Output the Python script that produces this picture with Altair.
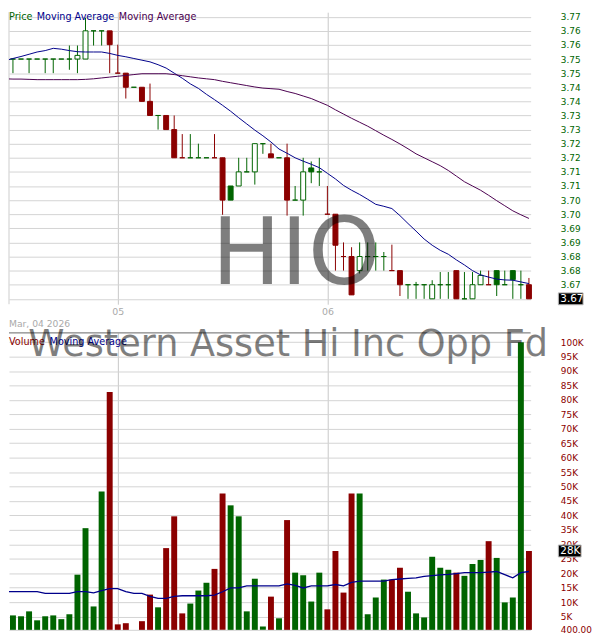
import altair as alt
import pandas as pd

GREEN = "#006400"
RED = "#8B0000"
BLUE = "#00008B"
PURPLE = "#4B0050"
GRID = "#d3d3d3"
FONT = "DejaVu Sans"

opens = [3.75,3.75,3.75,3.75,3.75,3.75,3.75,3.75,3.75,3.75,
         3.76,3.76,3.76,3.745,3.745,3.74,3.74,3.735,3.73,3.73,
         3.725,3.715,3.715,3.715,3.715,3.715,3.715,3.705,3.705,3.71,
         3.71,3.72,3.7164,3.715,3.715,3.70,3.70,3.7114,3.71,3.695,
         3.695,3.68,3.68,3.675,3.68,3.68,3.68,3.675,3.675,3.67,
         3.67,3.67,3.665,3.67,3.67,3.675,3.665,3.665,3.67,3.67,
         3.675,3.67,3.675,3.67,3.67]
highs = [3.75,3.75,3.75,3.75,3.75,3.75,3.75,3.7548,3.7548,3.7646,
         3.76,3.76,3.76,3.7551,3.745,3.74,3.74,3.7413,3.73,3.73,
         3.73,3.7234,3.7234,3.72,3.715,3.7234,3.715,3.705,3.715,3.715,
         3.72,3.72,3.72,3.715,3.72,3.705,3.715,3.7137,3.715,3.705,
         3.695,3.685,3.6833,3.685,3.685,3.685,3.6816,3.6842,3.675,3.67,
         3.671,3.67,3.6716,3.6745,3.6745,3.675,3.6745,3.6745,3.675,3.675,
         3.675,3.675,3.675,3.675,3.6724]
lows = [3.745,3.75,3.745,3.75,3.745,3.745,3.75,3.7462,3.745,3.75,
        3.7548,3.7548,3.745,3.745,3.736,3.74,3.735,3.73,3.725,3.725,
        3.715,3.715,3.715,3.715,3.715,3.715,3.6948,3.70,3.705,3.71,
        3.7055,3.7164,3.715,3.715,3.6945,3.70,3.6945,3.706,3.705,3.695,
        3.675,3.675,3.6664,3.674,3.675,3.675,3.675,3.675,3.666,3.665,
        3.665,3.665,3.665,3.665,3.665,3.665,3.665,3.665,3.67,3.67,
        3.666,3.67,3.665,3.665,3.665]
closes = [3.75,3.75,3.75,3.75,3.75,3.75,3.75,3.75,3.7513,3.76,
          3.76,3.76,3.7551,3.745,3.74,3.74,3.735,3.73,3.73,3.725,
          3.715,3.715,3.715,3.715,3.715,3.715,3.70,3.70,3.71,3.71,
          3.72,3.72,3.715,3.715,3.70,3.70,3.71,3.71,3.71,3.695,
          3.684,3.68,3.6664,3.68,3.68,3.68,3.68,3.675,3.67,3.67,
          3.67,3.67,3.67,3.67,3.67,3.665,3.665,3.67,3.6733,3.67,
          3.67,3.67,3.6718,3.67,3.665]
dirs = list("gggggggggggg" "rrrgrrgrrrggg" "rrgggggrgrgggg" "rrrrggggrrgggggg" "rgggrggggr")
volumes = [5400,5100,6800,3700,5100,5400,4100,5800,19500,35600,
           8500,48300,82700,2300,2700,400,3400,12600,8200,28700,
           39700,6100,9500,14000,16700,21500,47600,43500,39700,6800,
           18100,1600,11900,4400,38400,20200,19300,10200,20200,7500,
           27700,13300,47600,47600,5800,11600,17800,17800,21900,13600,
           6100,4700,25700,21900,21200,20200,19100,23200,24600,31100,
           25300,9900,11600,100000,27700]

ma_idx = list(range(-1, 65))
ma_short = [3.7494, 3.7502,3.7509,3.7517,3.7525,3.7530,3.7538,3.7535,3.7530,3.7526,3.7525,
            3.7525,3.7525,3.7520,3.7513,3.7508,3.7502,3.7496,3.7490,3.7480,3.7468,
            3.7450,3.7432,3.7412,3.7396,3.7375,3.7356,3.7336,3.7315,3.7292,3.7270,
            3.7248,3.7228,3.7206,3.7181,3.7166,3.7150,3.7138,3.7127,3.7115,3.7095,
            3.7075,3.7052,3.7035,3.7020,3.7003,3.6985,3.6978,3.6970,3.6945,3.6917,
            3.6890,3.6862,3.6840,3.6822,3.6808,3.6788,3.6770,3.6750,3.6735,3.6727,
            3.6720,3.6717,3.6716,3.6710,3.6704]
ma_long = [3.7430, 3.7429,3.7429,3.7428,3.7427,3.7427,3.7427,3.7427,3.7427,3.7427,3.7428,
           3.7430,3.7433,3.7436,3.7439,3.7442,3.7445,3.7448,3.7448,3.7448,3.7448,
           3.7445,3.7441,3.7437,3.7433,3.7430,3.7427,3.7421,3.7416,3.7411,3.7406,
           3.7401,3.7397,3.7395,3.7393,3.7385,3.7378,3.7369,3.7360,3.7348,3.7336,
           3.7320,3.7305,3.7290,3.7276,3.7262,3.7246,3.7230,3.7215,3.7199,3.7182,
           3.7164,3.7150,3.7136,3.7122,3.7105,3.7085,3.7065,3.7050,3.7035,3.7017,
           3.6998,3.6980,3.6962,3.6948,3.6935]
vol_ma = [13600, 13600,13600,13600,13600,13000,13000,13000,13000,13600,13600,
          13200,14000,14700,14700,13600,13000,13000,12000,11300,11300,
          12000,12200,12200,12200,12200,12400,13600,14900,14900,15600,
          15600,15600,15600,15600,16300,15800,14900,15600,15600,15600,
          16100,15600,16800,17300,17300,17300,17300,17800,18000,18200,
          18400,18900,19200,19400,19600,19900,20200,20200,20200,20400,
          20600,19500,18400,20200,20600]

price_ticks = [3.665,3.670,3.675,3.680,3.685,3.690,3.695,3.700,3.705,3.710,3.715,
               3.720,3.725,3.730,3.735,3.740,3.745,3.750,3.755,3.760,3.765]
vol_ticks = [400,5000,10000,15000,20000,25000,30000,35000,40000,45000,50000,
             55000,60000,65000,70000,75000,80000,85000,90000,95000,100000]
month_ticks = [13, 39]
month_labels = ["05", "06"]

W = 527
PH = 295
VH = 300
PX_PER_UNIT = 2850.0

df = pd.DataFrame({"i": list(range(65)), "o": opens, "h": highs, "l": lows,
                   "c": closes, "d": dirs, "v": volumes})
ma_df = pd.DataFrame({"i": ma_idx, "s": ma_short, "lg": ma_long, "vm": vol_ma})
last_df = df.tail(1)

xs = alt.Scale(domain=[-0.491, 64.21], nice=False, zero=False)
ys = alt.Scale(domain=[3.66310, 3.76661], nice=False, zero=False)
vs = alt.Scale(domain=[400, 103200], nice=False, zero=False)

month_expr = " : ".join(f"datum.value == {t} ? '{l}'" for t, l in zip(month_ticks, month_labels)) + " : ''"
x_axis_p = alt.Axis(values=month_ticks, grid=True, gridColor="#c8c8c8", ticks=False, domain=False,
                    labelExpr=month_expr, labelColor="#aaaaaa", labelFont=FONT, labelFontSize=9.5,
                    labelPadding=2, title=None)
x_axis_v = alt.Axis(values=month_ticks, grid=True, gridColor="#c8c8c8", ticks=False, domain=False,
                    labels=False, title=None)
y_axis_p = alt.Axis(orient="right", values=price_ticks, grid=True, gridColor=GRID, ticks=False,
                    tickSize=0, domain=False, labelPadding=30, labelFont=FONT, labelFontSize=9,
                    labelColor=GREEN, labelOverlap=False, labelFlush=False, title=None,
                    labelExpr="datum.value < 3.667 ? '' : format(datum.value + 0.0001, '.2f')")
y_axis_v = alt.Axis(orient="right", values=vol_ticks, grid=True, gridColor=GRID, ticks=False,
                    tickSize=0, domain=False, labelPadding=30, labelFont=FONT, labelFontSize=9,
                    labelColor=RED, labelOverlap=False, labelFlush=False, title=None,
                    labelExpr="datum.value < 1000 ? format(datum.value, '.2f') : format(datum.value / 1000, 'd') + 'K'")

base = alt.Chart(df).transform_calculate(
    col=f"datum.d == 'g' ? '{GREEN}' : '{RED}'",
    blo="min(datum.o, datum.c)", bhi="max(datum.o, datum.c)",
    x0="datum.i - 0.307", x1="datum.i + 0.307",
    vx0="datum.i - 0.368", vx1="datum.i + 0.368", vbase="400",
).transform_calculate(
    fil="datum.c > datum.o ? 'white' : datum.col"
)

wicks = base.mark_rule(strokeWidth=1).encode(
    x=alt.X("i:Q", scale=xs, axis=x_axis_p),
    y=alt.Y("l:Q", scale=ys, axis=y_axis_p), y2="h:Q",
    color=alt.Color("col:N", scale=None))
bodies = base.mark_rect(strokeWidth=1).encode(
    x=alt.X("x0:Q", scale=xs, axis=x_axis_p), x2="x1:Q",
    y=alt.Y("blo:Q", scale=ys, axis=y_axis_p), y2="bhi:Q",
    fill=alt.Fill("fil:N", scale=None), stroke=alt.Stroke("col:N", scale=None))
ma1 = alt.Chart(ma_df).mark_line(color=BLUE, strokeWidth=1, clip=True).encode(
    x=alt.X("i:Q", scale=xs, axis=x_axis_p), y=alt.Y("s:Q", scale=ys, axis=y_axis_p))
ma2 = alt.Chart(ma_df).mark_line(color=PURPLE, strokeWidth=1, clip=True).encode(
    x=alt.X("i:Q", scale=xs, axis=x_axis_p), y=alt.Y("lg:Q", scale=ys, axis=y_axis_p))

left_border = alt.Chart(pd.DataFrame({"k": [0]})).mark_rule(color="#cccccc").encode(
    x=alt.value(0), y=alt.value(0), y2=alt.value(PH))

def label(text, x, y, color, size=9.75, font=FONT, baseline="top", align="left", opacity=1.0):
    return alt.Chart(pd.DataFrame({"t": [text]})).mark_text(
        font=font, fontSize=size, color=color, baseline=baseline, align=align, opacity=opacity
    ).encode(text="t:N", x=alt.value(x), y=alt.value(y))

price_leg = [label("Price", 0, 0, GREEN), label("Moving Average", 28, 0, BLUE),
             label("Moving Average", 111, 0, PURPLE)]
hio = label("HIO", 290, 275, "black", size=93, baseline="alphabetic", align="center", opacity=0.5)

half_p = 6.0 / PX_PER_UNIT
pbox = alt.Chart(last_df).transform_calculate(
    b0=f"datum.c - {half_p}", b1=f"datum.c + {half_p}").mark_rect(
    color="black", stroke="#bbbbbb", strokeWidth=1, clip=False).encode(
    x=alt.value(555), x2=alt.value(580),
    y=alt.Y("b0:Q", scale=ys, axis=y_axis_p), y2="b1:Q")
ptext = alt.Chart(last_df).transform_calculate(
    lab="format(datum.c + 0.0001, '.2f')").mark_text(
    font=FONT, fontSize=10.5, color="white", align="left", baseline="middle").encode(
    x=alt.value(557), y=alt.Y("c:Q", scale=ys, axis=y_axis_p), text="lab:N")

price = alt.layer(left_border, wicks, bodies, ma1, ma2, *price_leg, hio, pbox, ptext).properties(
    width=W, height=PH)

vbars = base.mark_rect().encode(
    x=alt.X("vx0:Q", scale=xs, axis=x_axis_v), x2="vx1:Q",
    y=alt.Y("vbase:Q", scale=vs, axis=y_axis_v), y2="v:Q",
    fill=alt.Fill("col:N", scale=None))
vma = alt.Chart(ma_df).mark_line(color=BLUE, strokeWidth=1.3, clip=True).encode(
    x=alt.X("i:Q", scale=xs, axis=x_axis_v), y=alt.Y("vm:Q", scale=vs, axis=y_axis_v))
top_line = alt.Chart(pd.DataFrame({"k": [0]})).mark_rule(color="#666666", strokeWidth=1).encode(
    x=alt.value(0), x2=alt.value(W), y=alt.value(0))
vol_leg = [label("Volume", 0, 4, RED), label("Moving Average", 41, 4, BLUE)]
date_lab = label("Mar, 04 2026", 0, -13, "#aaaaaa", size=9.3)
name_wm = label("Western Asset Hi Inc Opp Fd", 282, 23, "black", size=37,
                baseline="alphabetic", align="center", opacity=0.5)
vbox = alt.Chart(last_df).transform_calculate(
    b0="datum.v - 2058", b1="datum.v + 2058").mark_rect(
    color="black", stroke="#bbbbbb", strokeWidth=1, clip=False).encode(
    x=alt.value(555), x2=alt.value(578),
    y=alt.Y("b0:Q", scale=vs, axis=y_axis_v), y2="b1:Q")
vtext = alt.Chart(last_df).transform_calculate(
    lab="format(datum.v / 1000, '.0f') + 'K'").mark_text(
    font=FONT, fontSize=10.5, color="white", align="left", baseline="middle").encode(
    x=alt.value(557), y=alt.Y("v:Q", scale=vs, axis=y_axis_v), text="lab:N")

volume = alt.layer(vbars, vma, top_line, *vol_leg, date_lab, name_wm, vbox, vtext).properties(
    width=W, height=VH)

chart = alt.vconcat(price, volume, spacing=29, bounds="flush").properties(
    padding=0, background="white"
).configure_view(stroke=None)

chart.save("out.html", embed_options={"renderer": "svg", "actions": False})
